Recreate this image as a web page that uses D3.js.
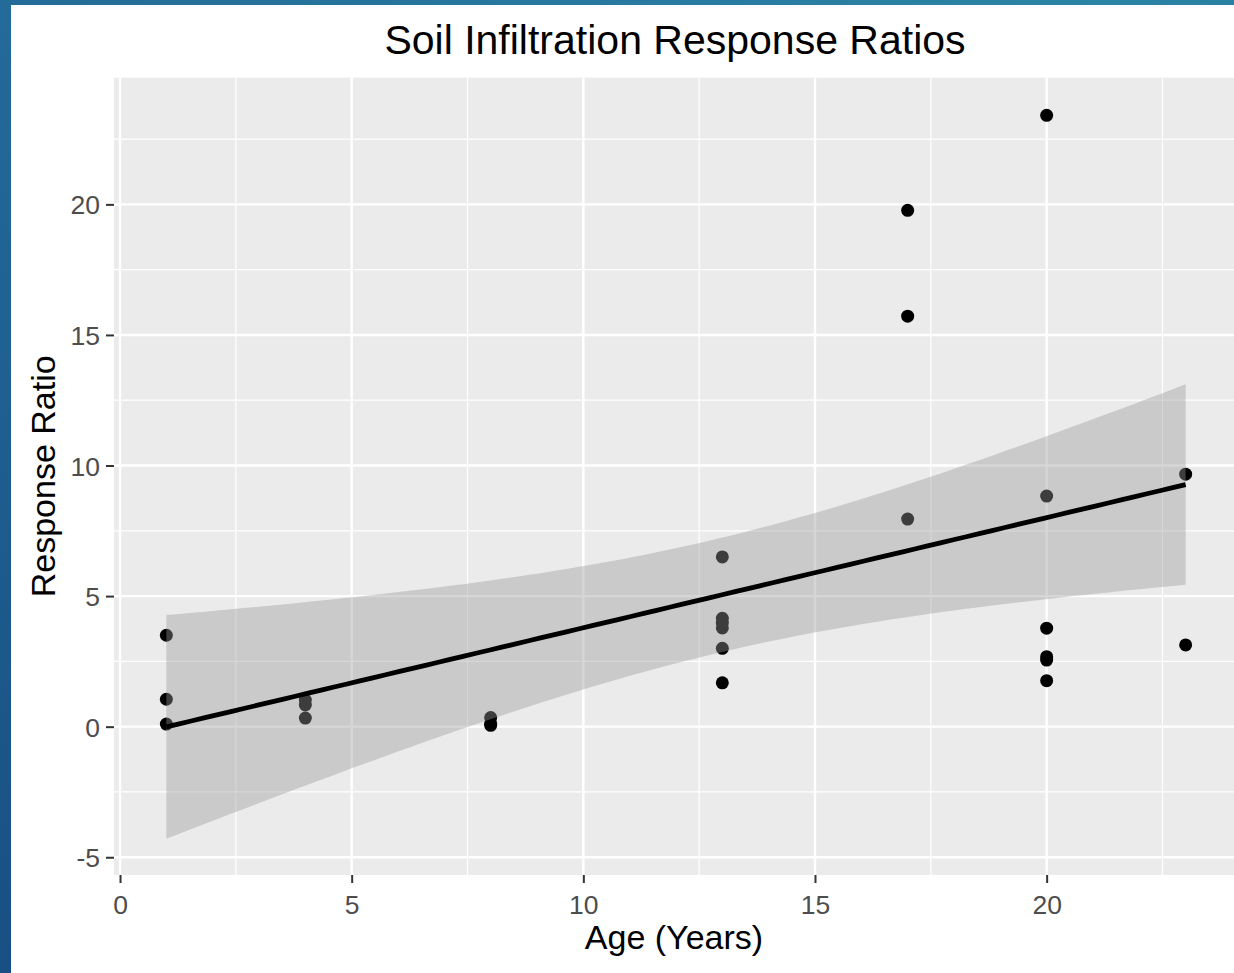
<!DOCTYPE html>
<html>
<head>
<meta charset="utf-8">
<script src="https://cdn.jsdelivr.net/npm/d3@7"></script>
<style>
  html, body { margin: 0; padding: 0; background: #ffffff; }
  svg { display: block; }
  text { font-family: "Liberation Sans", Arial, sans-serif; }
</style>
</head>
<body>
<script>
// Stand age (years) and infiltration response ratio for each site
const ages   = [1, 1, 1,  4, 4, 4,  8, 8, 8,  13, 13, 13, 13, 13, 13,  17, 17, 17,  20, 20, 20, 20, 20, 20,  23, 23];
const ratios = [3.5, 1.05, 0.1,  1.02, 0.83, 0.33,  0.35, 0.12, 0.05,
                6.5, 4.15, 3.97, 3.78, 3.0, 1.68,  19.77, 15.72, 7.95,
                23.41, 8.83, 3.77, 2.68, 2.55, 1.76,  9.67, 3.13];

const xTicks = [0, 5, 10, 15, 20];
const xMinor = [2.5, 7.5, 12.5, 17.5, 22.5];
const yTicks = [-5, 0, 5, 10, 15, 20];
const yMinor = [-2.5, 2.5, 7.5, 12.5, 17.5, 22.5];
const xLimits = [-0.13, 24.13];
const yLimits = [-5.68, 24.85];

const titleText = "Soil Infiltration Response Ratios";
const xTitle = "Age (Years)";
const yTitle = "Response Ratio";

const W = 1234, H = 973;
const panel = { left: 114, top: 77.7, right: 1238, bottom: 875 };

const svg = d3.select("body").append("svg").attr("width", W).attr("height", H);

// Slide frame: blue gradient behind a white card
const defs = svg.append("defs");
const grad = defs.append("linearGradient").attr("id", "frame")
  .attr("x1", "0%").attr("y1", "0%").attr("x2", "100%").attr("y2", "100%");
grad.append("stop").attr("offset", "0%").attr("stop-color", "#236b98");
grad.append("stop").attr("offset", "45%").attr("stop-color", "#2b84a5");
grad.append("stop").attr("offset", "100%").attr("stop-color", "#174f82");
svg.append("rect").attr("width", W).attr("height", H).attr("fill", "url(#frame)");
const leftGrad = defs.append("linearGradient").attr("id", "leftFrame")
  .attr("x1", "0%").attr("y1", "0%").attr("x2", "0%").attr("y2", "100%");
leftGrad.append("stop").attr("offset", "0%").attr("stop-color", "#236b98");
leftGrad.append("stop").attr("offset", "100%").attr("stop-color", "#184f84");
svg.append("rect").attr("width", 11).attr("height", H).attr("fill", "url(#leftFrame)");
svg.append("rect").attr("x", 11).attr("y", 5).attr("width", W - 11).attr("height", H - 5).attr("fill", "#ffffff");

const x = d3.scaleLinear().domain(xLimits).range([panel.left, panel.right]);
const y = d3.scaleLinear().domain(yLimits).range([panel.bottom, panel.top]);

// Panel background and grid
svg.append("rect")
  .attr("x", panel.left).attr("y", panel.top)
  .attr("width", panel.right - panel.left).attr("height", panel.bottom - panel.top)
  .attr("fill", "#ebebeb");

const grid = svg.append("g");
grid.selectAll(".xminor").data(xMinor).join("line")
  .attr("x1", d => x(d)).attr("x2", d => x(d)).attr("y1", panel.top).attr("y2", panel.bottom)
  .attr("stroke", "#ffffff").attr("stroke-width", 1.2);
grid.selectAll(".yminor").data(yMinor).join("line")
  .attr("y1", d => y(d)).attr("y2", d => y(d)).attr("x1", panel.left).attr("x2", panel.right)
  .attr("stroke", "#ffffff").attr("stroke-width", 1.2);
grid.selectAll(".xmajor").data(xTicks).join("line")
  .attr("x1", d => x(d)).attr("x2", d => x(d)).attr("y1", panel.top).attr("y2", panel.bottom)
  .attr("stroke", "#ffffff").attr("stroke-width", 2.4);
grid.selectAll(".ymajor").data(yTicks).join("line")
  .attr("y1", d => y(d)).attr("y2", d => y(d)).attr("x1", panel.left).attr("x2", panel.right)
  .attr("stroke", "#ffffff").attr("stroke-width", 2.4);

// Points
const pts = ages.map((a, i) => ({ x: a, y: ratios[i] }));
svg.append("g").selectAll("circle").data(pts).join("circle")
  .attr("cx", d => x(d.x)).attr("cy", d => y(d.y)).attr("r", 6.5)
  .attr("fill", "#000000");

// Ordinary least squares fit with 95% confidence band
const n = pts.length;
const mx = d3.mean(pts, d => d.x), my = d3.mean(pts, d => d.y);
const sxx = d3.sum(pts, d => (d.x - mx) ** 2);
const sxy = d3.sum(pts, d => (d.x - mx) * (d.y - my));
const slope = sxy / sxx, intercept = my - slope * mx;
const sse = d3.sum(pts, d => (d.y - (intercept + slope * d.x)) ** 2);
const s = Math.sqrt(sse / (n - 2));
const tCrit = 2.0639; // t(0.975, df = 24)
const [xa, xb] = d3.extent(ages);
const fit = d3.range(80).map(i => {
  const xv = xa + (xb - xa) * i / 79;
  const fv = intercept + slope * xv;
  const se = s * Math.sqrt(1 / n + (xv - mx) ** 2 / sxx);
  return { x: xv, y: fv, lo: fv - tCrit * se, hi: fv + tCrit * se };
});

svg.append("path").datum(fit)
  .attr("d", d3.area().x(d => x(d.x)).y0(d => y(d.lo)).y1(d => y(d.hi)))
  .attr("fill", "#999999").attr("fill-opacity", 0.4);

svg.append("path").datum(fit)
  .attr("d", d3.line().x(d => x(d.x)).y(d => y(d.y)))
  .attr("fill", "none").attr("stroke", "#000000").attr("stroke-width", 4.8);

// Axes
const xAxis = svg.append("g").attr("transform", `translate(0,${panel.bottom})`)
  .call(d3.axisBottom(x).tickValues(xTicks).tickSize(8).tickPadding(6).tickFormat(d3.format("d")));
const yAxis = svg.append("g").attr("transform", `translate(${panel.left},0)`)
  .call(d3.axisLeft(y).tickValues(yTicks).tickSize(8).tickPadding(6).tickFormat(d => d < 0 ? "-" + Math.abs(d) : d));
[xAxis, yAxis].forEach(g => {
  g.select(".domain").remove();
  g.selectAll(".tick line").attr("stroke", "#333333").attr("stroke-width", 2);
  g.selectAll(".tick text").attr("fill", "#4d4d4d").style("font-size", "26.5px")
    .style("font-family", '"Liberation Sans", Arial, sans-serif');
});
xAxis.selectAll(".tick text").attr("dy", null).attr("y", 39);
yAxis.selectAll(".tick text").attr("dy", "0.36em");

// Titles
const cx = (panel.left + panel.right) / 2;
svg.append("text").attr("x", cx - 1).attr("y", 54).attr("text-anchor", "middle")
  .style("font-size", "41px").attr("fill", "#000000").text(titleText);
svg.append("text").attr("x", cx - 2).attr("y", 949).attr("text-anchor", "middle")
  .style("font-size", "34px").attr("fill", "#000000").text(xTitle);
svg.append("text").attr("transform", `translate(55,${(panel.top + panel.bottom) / 2}) rotate(-90)`)
  .attr("text-anchor", "middle").style("font-size", "34px").attr("fill", "#000000").text(yTitle);
</script>
</body>
</html>
